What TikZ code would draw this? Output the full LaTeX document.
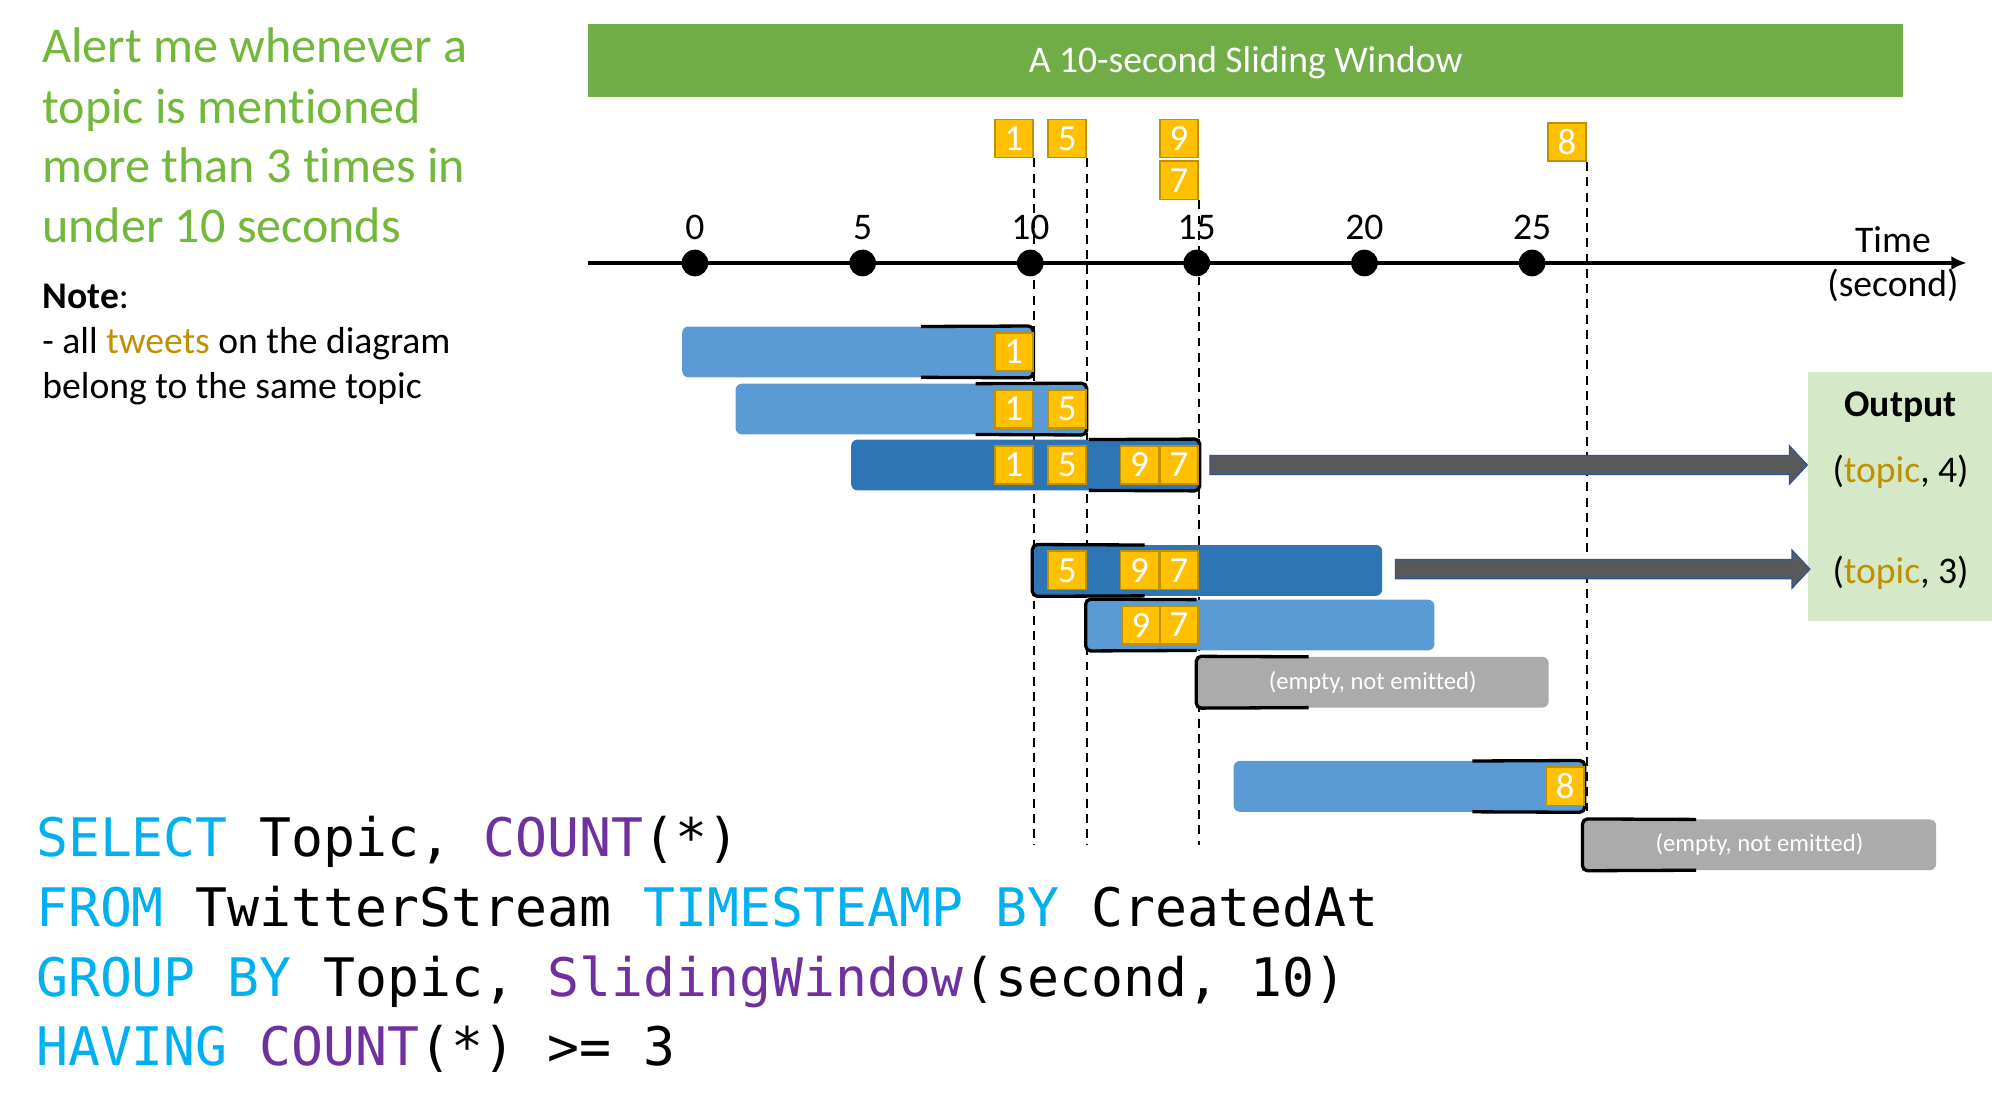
\documentclass[tikz,border=0pt]{standalone}
\usepackage{fontspec}
\setmainfont{Carlito}[Ligatures=NoCommon]
\newfontfamily\codefont{DejaVu Sans Mono}
\usetikzlibrary{calc,arrows.meta}
\definecolor{hdrgreen}{RGB}{112,173,71}
\definecolor{txtgreen}{RGB}{114,184,58}
\definecolor{lblue}{RGB}{91,155,213}
\definecolor{dblue}{RGB}{46,117,182}
\definecolor{emptygray}{RGB}{171,171,171}
\definecolor{twfill}{RGB}{255,192,0}
\definecolor{twdraw}{RGB}{191,144,0}
\definecolor{gold}{RGB}{191,144,0}
\definecolor{arrgray}{RGB}{89,89,89}
\definecolor{arrblue}{RGB}{47,85,151}
\definecolor{outgreen}{RGB}{213,232,200}
\definecolor{sqlcyan}{RGB}{0,176,240}
\definecolor{sqlpurple}{RGB}{112,48,160}
\newcommand\winbar[7]{\node[#2, minimum width={(#4-#3)*0.5pt}, minimum height={(#6-#5)*0.5pt}] (#1) at ({(#3+#4)/2},{(#5+#6)/2}) {#7};}
\newcommand\fatarrow[2]{\draw[fatarr] ($(#1)+(0,-7.5)$) -- ($(#2)+(-14,-7.5)$) -- ($(#2)+(-14,-15)$) -- (#2) -- ($(#2)+(-14,15)$) -- ($(#2)+(-14,7.5)$) -- ($(#1)+(0,7.5)$) -- cycle;}
\begin{document}
\begin{tikzpicture}[x=0.5pt,y=-0.5pt,
  lbl/.style={font=\fontsize{14.8}{17.8}\selectfont, inner sep=0},
  gtxt/.style={font=\fontsize{19.7}{23.5}\selectfont, text=txtgreen, inner sep=0, anchor=base west},
  ntxt/.style={font=\fontsize{14.8}{17.8}\selectfont, inner sep=0, anchor=base west},
  tw/.style={draw=twdraw, fill=twfill, line width=0.7pt, minimum size=15pt, inner sep=0, text=white, font=\fontsize{14.5}{17}\selectfont},
  barbase/.style={inner sep=0, rounded corners=2.5pt},
  lbar/.style={barbase, fill=lblue},
  dbar/.style={barbase, fill=dblue},
  ebar/.style={barbase, fill=emptygray, text=white, font=\fontsize{9.7}{11}\selectfont},
  brk/.style={line width=1.3pt, rounded corners=2pt},
  dline/.style={line width=0.7pt, dash pattern=on 3.5pt off 2.5pt},
  tdot/.style={circle, fill=black, minimum size=10.5pt, inner sep=0},
  fatarr/.style={fill=arrgray, draw=arrblue, line width=0.5pt},
  code/.style={font=\codefont\fontsize{20.9}{25}\selectfont, anchor=base west, inner sep=0}]
\useasboundingbox (0,0) rectangle (1568,879);
\fill[white] (0,0) rectangle (1568,879);

% left texts
\node[gtxt] (g1) at (33,49.5) {Alert me whenever a};
\node[gtxt] (g2) at (33,97) {topic is mentioned};
\node[gtxt] (g3) at (33,144) {more than 3 times in};
\node[gtxt] (g4) at (33,191) {under 10 seconds};
\node[ntxt] (n1) at (33,242.5) {\textbf{Note}:};
\node[ntxt] (n2) at (33,278) {- all \textcolor{gold}{tweets} on the diagram};
\node[ntxt] (n3) at (33,313.5) {belong to the same topic};

% header
\node[fill=hdrgreen, minimum width=517.5pt, minimum height=28.5pt, inner sep=0] (hdr) at (980.5,47.5) {};
\node[lbl, text=white, anchor=base] (hdrt) at (980.5,57) {A 10-second Sliding Window};

% incoming tweets
\node[tw] (t1) at (798,109) {1};
\node[tw] (t5) at (840,109) {5};
\node[tw] (t9) at (928,109) {9};
\node[tw] (t7) at (928,142) {7};
\node[tw] (t8) at (1233.5,112) {8};

% dashed guides
\coordinate (e1) at (813,665);
\coordinate (e5) at (855,665);
\coordinate (e7) at (943,665);
\coordinate (e8) at (1248.5,645);
\draw[dline] (t1.south east) -- (t1.south east |- e1);
\draw[dline] (t5.south east) -- (t5.south east |- e5);
\draw[dline] (t7.south east) -- (t7.south east |- e7);
\draw[dline] (t8.south east) -- (t8.south east |- e8);

% timeline
\coordinate (axs) at (463,207);
\coordinate (axe) at (1548,207);
\draw[line width=1.5pt, -{Latex[length=6pt,width=5.5pt]}] (axs) -- (axe);
\foreach \v/\x in {0/547,5/679,10/811,15/942,20/1074,25/1206}{
  \node[tdot] (d\v) at (\x,207) {};
  \node[lbl] (l\v) at (\x,179) {\v};
}
\node[lbl, anchor=base] (time) at (1490,199) {Time};
\node[lbl, anchor=base] (sec) at (1490,233) {(second)};

% windows
\winbar{r1}{lbar}{537}{813}{257}{297}{}
\winbar{r2}{lbar}{579}{855}{302}{342}{}
\winbar{r3}{dbar}{670}{944}{346}{386}{}
\winbar{r4}{dbar}{813}{1088}{429}{469}{}
\winbar{r5}{lbar}{855}{1129}{472}{512}{}
\winbar{r6}{ebar}{942}{1219}{517}{557}{(empty, not emitted)}
\winbar{r7}{lbar}{971}{1247}{599}{639}{}
\winbar{r8}{ebar}{1246}{1524}{645}{685}{(empty, not emitted)}

% brackets
\draw[brk] (725,257) -- (r1.north east) -- (r1.south east) -- (725,297);
\draw[brk] (768,302) -- (r2.north east) -- (r2.south east) -- (768,342);
\draw[brk] (857,346) -- (r3.north east) -- (r3.south east) -- (857,386);
\draw[brk] (901,429) -- (r4.north west) -- (r4.south west) -- (901,469);
\draw[brk] (942,472) -- (r5.north west) -- (r5.south west) -- (942,512);
\draw[brk] (1030,517) -- (r6.north west) -- (r6.south west) -- (1030,557);
\draw[brk] (1159,599) -- (r7.north east) -- (r7.south east) -- (1159,639);
\draw[brk] (1335,645) -- (r8.north west) -- (r8.south west) -- (1335,685);

% tweets inside windows
\node[tw] (r1a) at (798,277) {1};
\node[tw] (r2a) at (798,322) {1};
\node[tw] (r2b) at (840,322) {5};
\node[tw] (r3a) at (798,366) {1};
\node[tw] (r3b) at (840,366) {5};
\node[tw] (r3c) at (897,366) {9};
\node[tw] (r3d) at (928,366) {7};
\node[tw] (r4b) at (840,449) {5};
\node[tw] (r4c) at (897,449) {9};
\node[tw] (r4d) at (928,449) {7};
\node[tw] (r5c) at (898,492) {9};
\node[tw] (r5d) at (928,492) {7};
\node[tw] (r7a) at (1232,619) {8};

% output
\node[fill=outgreen, minimum width=72.5pt, minimum height=98pt, inner sep=0] (out) at (1495.5,391) {};
\node[lbl, font=\bfseries\fontsize{14.8}{17.8}\selectfont, anchor=base] (outt) at (1496,328) {Output};
\node[lbl, anchor=base] (o4) at (1496,380) {(\textcolor{gold}{topic}, 4)};
\node[lbl, anchor=base] (o3) at (1496,459) {(\textcolor{gold}{topic}, 3)};

% emit arrows
\coordinate (a1s) at ($(r3.east)+(8,0)$);
\coordinate (a1e) at (out.west |- a1s);
\coordinate (a2s) at ($(r4.east)+(10,-1)$);
\coordinate (a2e) at ($(out.west |- a2s)+(2,0)$);
\fatarrow{a1s}{a1e}
\fatarrow{a2s}{a2e}

% SQL
\node[code] (q1) at (28,674) {\textcolor{sqlcyan}{SELECT} Topic, \textcolor{sqlpurple}{COUNT}(*)};
\node[code] (q2) at (28,729) {\textcolor{sqlcyan}{FROM} TwitterStream \textcolor{sqlcyan}{TIMESTEAMP BY} CreatedAt};
\node[code] (q3) at (28,784) {\textcolor{sqlcyan}{GROUP BY} Topic, \textcolor{sqlpurple}{SlidingWindow}(second, 10)};
\node[code] (q4) at (28,839) {\textcolor{sqlcyan}{HAVING} \textcolor{sqlpurple}{COUNT}(*) >= 3};
\end{tikzpicture}
\end{document}
